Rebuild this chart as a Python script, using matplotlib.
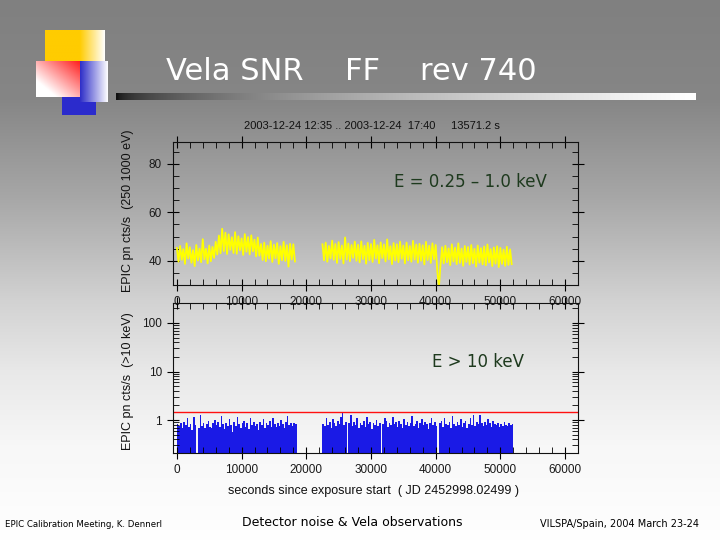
import numpy as np
import matplotlib
matplotlib.use("Agg")
import matplotlib.pyplot as plt
from matplotlib.ticker import MultipleLocator, LogLocator, NullFormatter

# ---------------- data ----------------
BIN = 250                      # s per light-curve bin
seg1_start = 0
seg2_start = 22500

# soft band  E = 0.25 - 1.0 keV  (cts/s)
soft_seg1 = [
    45.3, 39.6, 46.1, 40.4, 44.8, 38.7, 47.2, 40.9, 45.6, 39.2,
    44.4, 37.8, 46.5, 40.1, 45.0, 39.4, 48.9, 40.6, 44.9, 38.9,
    46.3, 39.8, 45.7,
    41.2, 47.8, 42.6,
    50.4, 43.1, 53.2, 44.0, 51.6, 42.8, 50.9, 44.5, 49.7, 43.2,
    51.8, 42.9, 50.1, 44.3, 49.2, 42.4, 51.0, 43.7, 49.8, 42.6,
    50.5, 43.9, 48.7, 41.8, 49.6, 42.1,
    46.9, 40.3, 47.5, 39.8, 46.2, 40.9, 48.1, 39.5, 46.6, 41.0,
    47.3, 38.7, 46.0, 40.2, 47.8, 39.9, 46.4, 37.6, 47.0, 40.5,
    46.8, 39.7,
]
soft_seg2 = [
    46.8, 40.2, 47.5, 39.6, 46.1, 41.0, 48.3, 40.4, 46.9, 39.1,
    47.7, 40.8, 46.3, 38.9, 49.6, 40.5, 47.1, 39.8, 46.5, 41.2,
    47.9, 40.0, 46.6, 39.3, 48.0, 40.7, 46.2, 38.8, 47.4, 40.3,
    46.9, 39.5, 48.6, 40.9, 46.4, 39.0, 47.6, 41.1, 46.7, 39.7,
    48.8, 40.6, 46.0, 38.6, 47.3, 40.1, 46.8, 39.4, 47.9, 40.8,
    46.3, 38.9, 47.5, 40.2, 46.1, 39.6, 48.2, 40.5, 46.7, 39.2,
    47.0, 40.0, 46.4, 38.5, 47.8, 40.3, 46.2, 39.1, 47.2, 40.6,
    46.5,
    36.0, 29.0, 38.5,
    45.6, 38.9, 46.2, 39.4, 45.1, 38.2, 46.8, 39.7, 45.4, 38.6,
    47.2, 39.1, 45.0, 37.9, 46.1, 39.5, 45.7, 38.4, 46.5, 39.0,
    44.9, 37.6, 46.3, 39.2, 45.2, 38.5, 45.9, 38.1, 46.7, 39.3,
    44.8, 37.8, 45.5, 38.8, 46.0, 37.4, 45.3, 38.7, 44.6, 37.9,
    45.8, 38.3, 44.7, 38.6,
]

# hard band  E > 10 keV  (cts/s)
hard_seg1 = [
    0.82, 0.74, 0.88, 0.69, 0.93, 0.78, 1.08, 0.72, 0.85, 0.64,
    1.15, 0.80, 0.10, 0.70, 1.28, 0.76, 0.87, 0.68, 0.83, 0.95,
    0.73, 0.68, 0.86, 1.02, 0.79, 0.90, 0.71, 1.22, 0.84, 0.66,
    0.89, 0.77, 1.05, 0.81, 0.58, 0.92, 0.75, 1.18, 0.83, 0.70,
    0.86, 0.97, 0.72, 0.88, 0.67, 1.10, 0.80, 0.93, 0.74, 0.85,
    0.62, 0.90, 0.78, 1.03, 0.69, 0.87, 0.81, 0.94, 0.73, 1.12,
    0.84, 0.71, 0.89, 0.76, 0.99, 0.82, 0.68, 0.91, 1.20, 0.79,
    0.86, 0.74, 0.88, 0.83,
]
hard_seg2 = [
    0.85, 0.77, 1.12, 0.81, 0.92, 0.70, 1.05, 0.88, 0.76, 0.95,
    0.83, 1.18, 1.45, 0.79, 0.90, 0.10, 0.86, 1.25, 0.74, 0.93,
    0.81, 1.08, 0.69, 0.87, 0.78, 0.96, 0.72, 1.14, 0.84, 0.91,
    0.67, 0.88, 0.80, 1.02, 0.75, 0.89, 0.10, 0.83, 1.10, 0.94,
    0.71, 0.86, 0.79, 1.16, 0.82, 0.90, 0.73, 0.97, 0.85, 0.68,
    1.07, 0.80, 0.92, 0.76, 0.88, 1.21, 0.74, 0.84, 0.95, 0.70,
    0.87, 1.04, 0.78, 0.91, 0.83, 0.66, 0.89, 1.13, 0.81, 0.93,
    0.75, 0.10, 0.86, 0.98, 0.72, 1.09, 0.84, 0.79, 0.90, 0.69,
    1.19, 0.85, 0.77, 0.92, 0.81, 1.06, 0.73, 0.88, 0.95, 0.70,
    0.84, 1.11, 0.79, 1.30, 0.76, 0.93, 0.82, 1.27, 0.87, 0.74,
    0.91, 0.80, 1.03, 0.86, 0.71, 0.94, 0.83, 0.78, 0.89, 0.72,
    0.85, 0.76, 0.90, 0.81, 0.74, 0.87, 0.79, 0.83,
]
hard_threshold = 1.5

x_ticks = [0, 10000, 20000, 30000, 40000, 50000, 60000]
soft_yticks = [40, 60, 80]
hard_yticks = [1, 10, 100]
hard_ylabels = ["1", "10", "100"]

# ---------------- figure ----------------
plt.rcParams["font.family"] = ["Liberation Sans", "DejaVu Sans"]
fig = plt.figure(figsize=(7.2, 5.4), dpi=100)

# slide background (pixel coordinates)
bg = fig.add_axes([0, 0, 1, 1], zorder=0)
ys = np.arange(540)
g = np.interp(ys, [0, 100, 200, 300, 370, 450, 520, 540],
              [128, 134, 168, 210, 232, 248, 253, 255]) / 255.0
grad = np.stack([g, g, g], axis=-1)[:, None, :].repeat(4, axis=1)
bg.imshow(grad, extent=(0, 720, 540, 0), aspect="auto", interpolation="bilinear", zorder=0)


def hgrad(c1, c2, x0, x1, y0, y1, power=1.0, start=0.0, z=1):
    n = 200
    xs = np.linspace(0, 1, n)
    t = np.clip((xs - start) / (1 - start), 0, 1) ** power
    c1 = np.array(c1) / 255.0
    c2 = np.array(c2) / 255.0
    row = c1[None, :] * (1 - t[:, None]) + c2[None, :] * t[:, None]
    img = row[None, :, :].repeat(2, axis=0)
    bg.imshow(img, extent=(x0, x1, y1, y0), aspect="auto", interpolation="bilinear", zorder=z)


# decorative squares
hgrad((255, 204, 0), (255, 255, 255), 45, 105, 30, 75, start=0.58, z=1)
bg.add_patch(plt.Rectangle((62, 90), 34, 25, color=(0.17, 0.17, 0.80), lw=0, zorder=2))
hgrad((45, 45, 200), (255, 255, 255), 80, 108, 61, 102, z=3)
# red square: diagonal gradient (red top-right -> white bottom-left)
n = 100
xx, yy = np.meshgrid(np.linspace(0, 1, n), np.linspace(0, 1, n))
tt = np.clip(((1 - xx) + yy) / 2 * 1.3, 0, 1)
red = np.array([1.0, 0.12, 0.12])
img = red[None, None, :] * (1 - tt[..., None]) + tt[..., None]
bg.imshow(img, extent=(36, 80, 97, 61), aspect="auto", interpolation="bilinear", zorder=4)
# title rule
hgrad((16, 16, 16), (255, 255, 255), 116, 696, 93, 100, power=0.5, z=1)

bg.set_xlim(0, 720)
bg.set_ylim(540, 0)
bg.axis("off")

# slide texts
tfont = dict(family="DejaVu Sans", color="white", fontsize=22, va="baseline", ha="left")
bg.text(166, 80, "Vela SNR", **tfont)
bg.text(345, 80, "FF", **tfont)
bg.text(420, 80, "rev 740", **tfont)
bg.text(5, 527, "EPIC Calibration Meeting, K. Dennerl", family="DejaVu Sans",
        fontsize=6.2, color="black", va="baseline", ha="left")
bg.text(242, 526, "Detector noise & Vela observations", family="DejaVu Sans",
        fontsize=9, color="black", va="baseline", ha="left")
bg.text(540, 527, "VILSPA/Spain, 2004 March 23-24", family="DejaVu Sans",
        fontsize=7, color="black", va="baseline", ha="left")

# plot labels
lab = dict(fontsize=9, color="#111111")
bg.text(128, 211, "EPIC pn cts/s  (250 1000 eV)", rotation=90, ha="center", va="center", **lab)
bg.text(128, 381, "EPIC pn cts/s  (>10 keV)", rotation=90, ha="center", va="center", **lab)
bg.text(373, 491, "seconds since exposure start  ( JD 2452998.02499 )", ha="center", va="center", **lab)
bg.text(372, 126, "2003-12-24 12:35 .. 2003-12-24  17:40     13571.2 s",
        ha="center", va="center", fontsize=8, color="#111111")

# ---------------- light curve panels ----------------
W = 405 / 720
L = 173 / 720
ax1 = fig.add_axes([L, 1 - 285 / 540, W, 143 / 540], zorder=2)
ax2 = fig.add_axes([L, 1 - 453 / 540, W, 150 / 540], zorder=2)

t1 = seg1_start + np.arange(len(soft_seg1)) * BIN
t2 = seg2_start + np.arange(len(soft_seg2)) * BIN
ax1.plot(t1, soft_seg1, color="#ffff00", lw=1.3)
ax1.plot(t2, soft_seg2, color="#ffff00", lw=1.3)
ax1.set_xlim(-600, 62000)
ax1.set_ylim(30, 89)
ax1.set_yticks(soft_yticks)
ax1.yaxis.set_minor_locator(MultipleLocator(5))
ax1.text(0.545, 0.72, "E = 0.25 \u2013 1.0 keV", transform=ax1.transAxes,
         family="DejaVu Sans", fontsize=12, color="#1e3a1e", ha="left", va="center")

e1 = seg1_start + np.arange(len(hard_seg1) + 1) * BIN
e2 = seg2_start + np.arange(len(hard_seg2) + 1) * BIN
ax2.set_yscale("log")
ax2.stairs(hard_seg1, e1, baseline=0.01, fill=True, color="#1a1ae6", lw=0)
ax2.stairs(hard_seg2, e2, baseline=0.01, fill=True, color="#1a1ae6", lw=0)
ax2.axhline(hard_threshold, color="#ff1010", lw=1.0)
ax2.set_xlim(-600, 62000)
ax2.set_ylim(0.21, 258)
ax2.set_yticks(hard_yticks, labels=hard_ylabels)
ax2.yaxis.set_minor_locator(LogLocator(base=10, subs=np.arange(2, 10)))
ax2.yaxis.set_minor_formatter(NullFormatter())
ax2.text(0.64, 0.605, "E > 10 keV", transform=ax2.transAxes,
         family="DejaVu Sans", fontsize=12, color="#1e3a1e", ha="left", va="center")

for ax in (ax1, ax2):
    ax.set_facecolor("none")
    ax.set_xticks(x_ticks)
    ax.xaxis.set_minor_locator(MultipleLocator(2000))
    for s in ax.spines.values():
        s.set_linewidth(0.8)
        s.set_color("#111111")
    ax.tick_params(which="major", direction="inout", length=8, width=0.8,
                   top=True, right=True, labelsize=8.5, labelcolor="#1a1a1a", pad=4)
    ax.tick_params(which="minor", direction="in", length=4, width=0.6,
                   top=True, right=True)

fig.savefig("out.png", dpi=100)
